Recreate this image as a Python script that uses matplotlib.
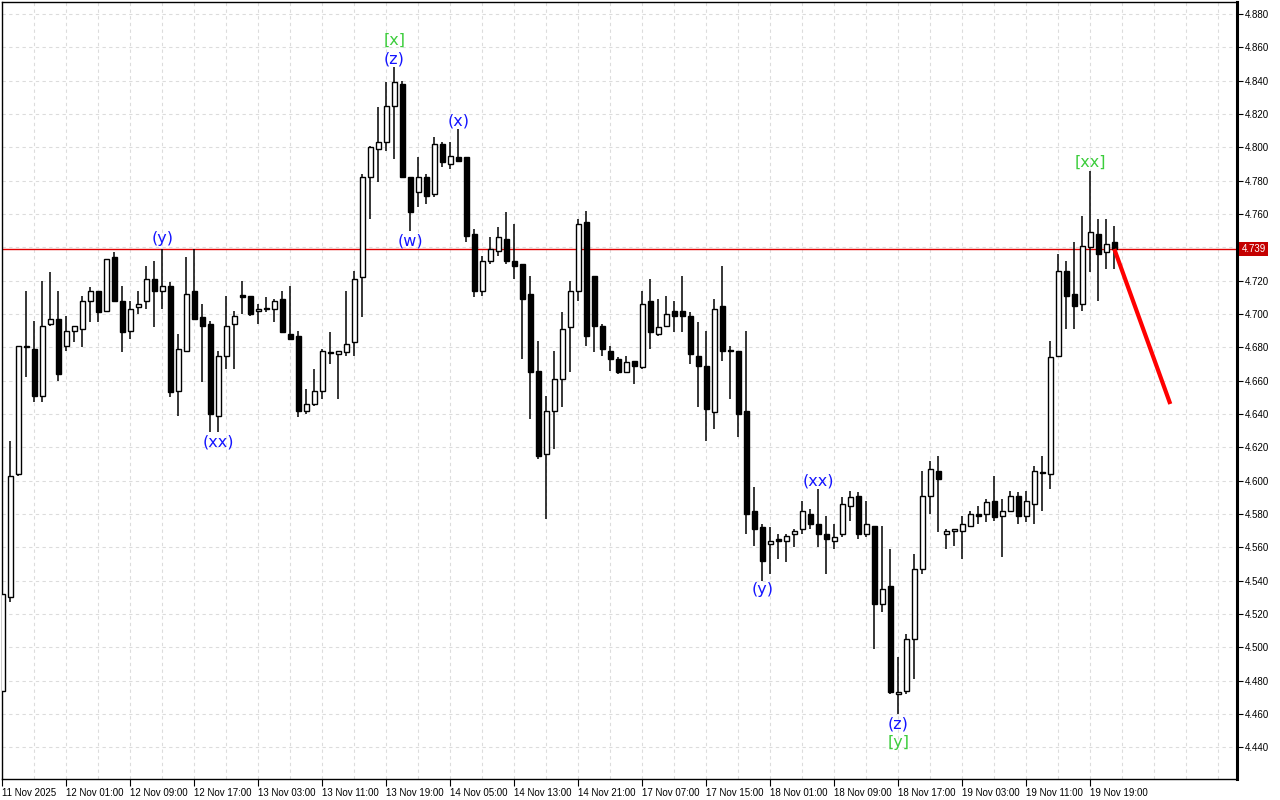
import matplotlib
matplotlib.use("Agg")
import matplotlib.pyplot as plt
from matplotlib.ticker import MultipleLocator, FixedLocator, FuncFormatter
from matplotlib.transforms import blended_transform_factory

# ---------------- data (hourly candles) ----------------
opens = [4.474, 4.530, 4.604, 4.680, 4.679, 4.651, 4.694, 4.697, 4.681, 4.690,
         4.691, 4.708, 4.714, 4.702, 4.734, 4.708, 4.690, 4.704, 4.708, 4.721,
         4.714, 4.717, 4.654, 4.678, 4.714, 4.698, 4.694, 4.639, 4.675, 4.694,
         4.7112, 4.711, 4.702, 4.703, 4.703, 4.709, 4.688, 4.687, 4.642, 4.646,
         4.654, 4.677, 4.676, 4.677, 4.683, 4.722, 4.782, 4.799, 4.803, 4.825,
         4.838, 4.782, 4.773, 4.782, 4.772, 4.802, 4.790, 4.794, 4.794, 4.748,
         4.714, 4.732, 4.738, 4.745, 4.732, 4.730, 4.712, 4.666, 4.616, 4.642,
         4.661, 4.692, 4.714, 4.755, 4.723, 4.693, 4.678, 4.673, 4.665, 4.672,
         4.668, 4.708, 4.688, 4.693, 4.702, 4.702, 4.699, 4.675, 4.669, 4.641,
         4.705, 4.678, 4.678, 4.642, 4.582, 4.572, 4.562, 4.565, 4.564, 4.568,
         4.571, 4.580, 4.574, 4.568, 4.564, 4.568, 4.585, 4.591, 4.568, 4.573,
         4.526, 4.537, 4.472, 4.474, 4.505, 4.547, 4.591, 4.606, 4.568, 4.570,
         4.570, 4.573, 4.580, 4.580, 4.588, 4.579, 4.582, 4.591, 4.579, 4.586,
         4.605, 4.604, 4.675, 4.726, 4.712, 4.706, 4.740, 4.748, 4.737, 4.743]
highs = [4.533, 4.624, 4.681, 4.714, 4.696, 4.720, 4.725, 4.714, 4.699, 4.693,
         4.711, 4.716, 4.714, 4.733, 4.737, 4.717, 4.708, 4.714, 4.729, 4.732,
         4.739, 4.719, 4.688, 4.734, 4.739, 4.706, 4.696, 4.678, 4.711, 4.702,
         4.720, 4.711, 4.706, 4.710, 4.709, 4.714, 4.717, 4.690, 4.655, 4.667,
         4.679, 4.689, 4.678, 4.714, 4.726, 4.784, 4.801, 4.824, 4.839, 4.848,
         4.840, 4.782, 4.794, 4.784, 4.806, 4.803, 4.803, 4.811, 4.794, 4.751,
         4.735, 4.746, 4.752, 4.761, 4.754, 4.730, 4.723, 4.684, 4.651, 4.678,
         4.701, 4.720, 4.757, 4.762, 4.723, 4.694, 4.681, 4.674, 4.675, 4.672,
         4.714, 4.721, 4.709, 4.711, 4.708, 4.723, 4.701, 4.695, 4.690, 4.709,
         4.729, 4.681, 4.678, 4.690, 4.596, 4.574, 4.572, 4.568, 4.568, 4.571,
         4.588, 4.583, 4.595, 4.579, 4.574, 4.590, 4.594, 4.593, 4.588, 4.573,
         4.573, 4.559, 4.494, 4.508, 4.556, 4.606, 4.612, 4.615, 4.571, 4.571,
         4.579, 4.582, 4.585, 4.589, 4.603, 4.589, 4.594, 4.593, 4.594, 4.609,
         4.615, 4.684, 4.736, 4.732, 4.743, 4.759, 4.786, 4.757, 4.757, 4.753]
lows = [4.472, 4.527, 4.603, 4.662, 4.647, 4.647, 4.693, 4.660, 4.678, 4.683,
        4.680, 4.695, 4.695, 4.702, 4.708, 4.677, 4.685, 4.700, 4.703, 4.692,
        4.703, 4.650, 4.639, 4.678, 4.697, 4.659, 4.629, 4.629, 4.667, 4.667,
        4.700, 4.699, 4.694, 4.701, 4.695, 4.689, 4.685, 4.638, 4.640, 4.645,
        4.649, 4.670, 4.649, 4.675, 4.675, 4.698, 4.757, 4.779, 4.798, 4.793,
        4.782, 4.750, 4.764, 4.766, 4.770, 4.788, 4.787, 4.791, 4.743, 4.710,
        4.711, 4.730, 4.735, 4.730, 4.721, 4.673, 4.637, 4.613, 4.577, 4.619,
        4.644, 4.665, 4.708, 4.681, 4.677, 4.675, 4.666, 4.664, 4.665, 4.658,
        4.667, 4.679, 4.687, 4.693, 4.689, 4.689, 4.670, 4.644, 4.624, 4.631,
        4.672, 4.649, 4.626, 4.568, 4.561, 4.540, 4.544, 4.553, 4.551, 4.560,
        4.568, 4.571, 4.560, 4.544, 4.559, 4.566, 4.576, 4.565, 4.566, 4.499,
        4.521, 4.472, 4.460, 4.472, 4.481, 4.544, 4.580, 4.569, 4.559, 4.561,
        4.553, 4.572, 4.574, 4.575, 4.576, 4.554, 4.582, 4.574, 4.575, 4.574,
        4.582, 4.595, 4.675, 4.691, 4.691, 4.702, 4.725, 4.708, 4.727, 4.727]
closes = [4.532, 4.603, 4.681, 4.681, 4.651, 4.693, 4.697, 4.664, 4.690, 4.693,
          4.708, 4.714, 4.701, 4.733, 4.708, 4.689, 4.703, 4.706, 4.721, 4.714,
          4.717, 4.653, 4.679, 4.712, 4.697, 4.693, 4.640, 4.675, 4.693, 4.699,
          4.7102, 4.700, 4.703, 4.703, 4.708, 4.689, 4.685, 4.642, 4.646, 4.654,
          4.678, 4.677, 4.678, 4.682, 4.721, 4.782, 4.800, 4.803, 4.825, 4.839,
          4.782, 4.761, 4.782, 4.771, 4.802, 4.791, 4.795, 4.792, 4.747, 4.714,
          4.732, 4.739, 4.746, 4.732, 4.729, 4.709, 4.665, 4.615, 4.642, 4.661,
          4.691, 4.714, 4.754, 4.687, 4.693, 4.679, 4.673, 4.665, 4.671, 4.669,
          4.706, 4.689, 4.692, 4.700, 4.699, 4.699, 4.676, 4.669, 4.643, 4.703,
          4.678, 4.678, 4.640, 4.580, 4.571, 4.552, 4.564, 4.564, 4.567, 4.570,
          4.582, 4.574, 4.568, 4.565, 4.566, 4.586, 4.590, 4.568, 4.574, 4.526,
          4.535, 4.473, 4.473, 4.505, 4.547, 4.591, 4.607, 4.601, 4.570, 4.571,
          4.574, 4.580, 4.579, 4.587, 4.578, 4.582, 4.591, 4.579, 4.588, 4.606,
          4.605, 4.674, 4.726, 4.711, 4.705, 4.741, 4.749, 4.736, 4.742, 4.739]

time_labels = ["11 Nov 2025", "12 Nov 01:00", "12 Nov 09:00", "12 Nov 17:00",
               "13 Nov 03:00", "13 Nov 11:00", "13 Nov 19:00", "14 Nov 05:00",
               "14 Nov 13:00", "14 Nov 21:00", "17 Nov 07:00", "17 Nov 15:00",
               "18 Nov 01:00", "18 Nov 09:00", "18 Nov 17:00", "19 Nov 03:00",
               "19 Nov 11:00", "19 Nov 19:00"]
label_every = 8

price_ticks = [4.44, 4.46, 4.48, 4.50, 4.52, 4.54, 4.56, 4.58, 4.60, 4.62, 4.64,
               4.66, 4.68, 4.70, 4.72, 4.74, 4.76, 4.78, 4.80, 4.82, 4.84, 4.86, 4.88]

current_price = 4.739
forecast_x = [139, 146]
forecast_y = [4.739, 4.646]

# wave labels: (bar index, text, colour group, anchor 'high'/'low', pixel offset)
wave_bars = [20, 27, 49, 49, 51, 57, 95, 102, 112, 112, 136]
wave_texts = ["(y)", "(xx)", "(z)", "[x]", "(w)", "(x)", "(y)", "(xx)", "(z)", "[y]", "[xx]"]
wave_kind = ["minor", "minor", "minor", "major", "minor", "minor", "minor", "minor", "minor", "major", "major"]
wave_anchor = ["high", "low", "high", "high", "low", "high", "low", "high", "low", "low", "high"]
wave_offset = [10, -10, 8, 27, -10, 8, -9, 8, -10, -28, 8]

# ---------------- figure ----------------
W, H = 1280, 800
fig = plt.figure(figsize=(W / 100, H / 100), dpi=100)
fig.patch.set_facecolor("white")
ax = fig.add_axes([2 / W, 21 / H, 1235 / W, 777 / H])
ax.set_facecolor("white")

n = len(opens)
xs = list(range(n))
ax.vlines(xs, lows, highs, color="black", linewidth=1.1, zorder=3)
bottoms, heights, faces = [], [], []
for o, c in zip(opens, closes):
    lo = min(o, c)
    h = abs(c - o)
    if h < 0.0006:
        lo = (o + c) / 2 - 0.0003
        h = 0.0006
    bottoms.append(lo)
    heights.append(h)
    faces.append("white" if c > o else "black")
ax.bar(xs, heights, bottom=bottoms, width=0.62, color=faces,
       edgecolor="black", linewidth=1.0, zorder=4)

# current price line and forecast
ax.axhline(current_price, color="#e00000", linewidth=1.0, zorder=2.5)
ax.plot(forecast_x, forecast_y, color="#ff0000", linewidth=3.0,
        solid_capstyle="butt", zorder=5)

# wave labels
colors = {"minor": "#1414ff", "major": "#3ccd3c"}
for b, t, k, a, off in zip(wave_bars, wave_texts, wave_kind, wave_anchor, wave_offset):
    yv = highs[b] if a == "high" else lows[b]
    ax.annotate(t, xy=(b, yv), xytext=(0, off), textcoords="offset pixels",
                ha="center", va="center", color=colors[k], fontsize=11.5,
                family="DejaVu Sans", zorder=6)

# axes limits
ax.set_xlim(-0.04, 154.34)
ax.set_ylim(4.421, 4.8872)

# grid
grid_kw = dict(color="#dcdcdc", linestyle=(0, (3, 3)), linewidth=0.8)
ax.xaxis.set_major_locator(FixedLocator(list(range(0, n, label_every))))
ax.xaxis.set_minor_locator(MultipleLocator(4))
ax.grid(True, which="major", axis="x", **grid_kw)
ax.grid(True, which="minor", axis="x", **grid_kw)
for p in price_ticks:
    ax.axhline(p, zorder=0.5, **grid_kw)
ax.set_axisbelow(True)

# ticks (the label hidden behind the current price box is left out)
shown_ticks = [p for p in price_ticks if abs(p - current_price) > 0.004]
ax.yaxis.tick_right()
ax.set_yticks(shown_ticks)
ax.yaxis.set_major_formatter(FuncFormatter(lambda v, p: f"{v:.3f}"))
ax.tick_params(axis="y", direction="out", length=4, width=0.8, pad=1.5)
for lbl in ax.get_yticklabels():
    lbl.set_fontsize(7)
    lbl.set_family("Liberation Sans")

ax.set_xticklabels(time_labels, ha="left", fontsize=7, family="Liberation Sans")
ax.tick_params(axis="x", which="major", direction="out", length=5, width=0.8,
               pad=1.5, colors="black")
ax.tick_params(axis="x", which="minor", length=0)

# spines
for s in ["left", "top", "bottom"]:
    ax.spines[s].set_linewidth(1.0)
    ax.spines[s].set_color("black")
ax.spines["right"].set_linewidth(2.2)

# price box on axis
tr = blended_transform_factory(ax.transAxes, ax.transData)
ax.text(1.0035, current_price, f"{current_price:.3f}", transform=tr,
        ha="left", va="center", color="white", fontsize=7, family="Liberation Sans",
        bbox=dict(boxstyle="square,pad=0.2", fc="#c40000", ec="none"),
        clip_on=False, zorder=10)

fig.savefig("out.png", dpi=100, facecolor="white")
